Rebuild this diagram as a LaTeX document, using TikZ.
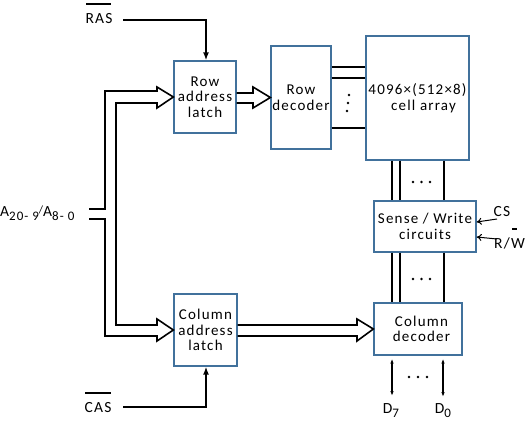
\documentclass[tikz,border=0pt]{standalone}
\usepackage{fontspec}
\setmainfont{Carlito}[LetterSpace=8]
\usetikzlibrary{arrows.meta}
\definecolor{boxblue}{HTML}{41719C}
\newcommand{\lowsub}[1]{\raisebox{-4pt}{\fontsize{13}{13}\selectfont #1}}
\begin{document}
\begin{tikzpicture}[x=1pt,y=-1pt,
  blk/.style={draw=boxblue,line width=1.3pt,fill=white,inner sep=0pt,align=center,font=\fontsize{15}{15.5}\selectfont},
  wire/.style={line width=1.6pt},
  lbl/.style={font=\fontsize{15.5}{16}\selectfont,inner sep=0pt},
  dotc/.style={circle,fill=black,inner sep=0pt,minimum size=2.6pt},
  filltip/.style={-{Latex[length=8pt,width=6pt]}},
  opentip/.style={-{To[length=5pt,width=7pt]}},
  bitip/.style={{Latex[length=5pt,width=3.5pt]}-{Latex[length=5pt,width=3.5pt]}}]
\useasboundingbox (0,0) rectangle (532,425);
% blocks
\node[blk,minimum width=62pt,minimum height=72pt] (rlatch) at (205,97) {Row\\address\\latch};
\node[blk,minimum width=60pt,minimum height=103pt] (rdec) at (301,97.5) {Row\\decoder};
\node[blk,minimum width=103pt,minimum height=124pt] (cells) at (417.5,98) {4096×(512×8)\\\hspace*{12pt}cell array};
\node[blk,minimum width=102pt,minimum height=51pt] (sense) at (425,226.5) {Sense / Write\\circuits};
\node[blk,minimum width=88pt,minimum height=52pt] (cdec) at (418,329) {\hspace*{7pt}Column\\\hspace*{7pt}decoder};
\node[blk,minimum width=63pt,minimum height=72pt] (clatch) at (205.5,330) {Column\\address\\latch};
% labels
\node[lbl] (ras) at (99,19) {RAS};
\node[lbl] (cas) at (98,408) {CAS};
\node[lbl,anchor=west] (addr) at (0,213) {A\lowsub{20- 9}\raisebox{3pt}{\fontsize{11}{11}\selectfont/}A\lowsub{8- 0}};
\node[lbl] (cs) at (502,212) {CS};
\node[lbl,anchor=west] (rw) at (494,243) {R/W};
\node[lbl,anchor=base] (d7) at (391,413) {D\lowsub{7}};
\node[lbl,anchor=base] (d0) at (443,413) {D\lowsub{0}};
% overlines
\draw[line width=1.1pt] (86,4) -- (111,4);
\draw[line width=1.1pt] (85,393) -- (111,393);
\draw[line width=1.3pt] (512,229) -- (517,229);
% control arrows
\draw[wire,filltip] (123,20) -- (206,20) -- (rlatch.north -| 206,0);
\draw[wire,filltip] (123,407) -- (206,407) -- (clatch.south -| 206,0);
\draw[line width=1pt,opentip] (497,219) -- (sense.east |- 0,222);
\draw[line width=1pt,opentip] (497,239) -- (sense.east |- 0,237);
% address bus
\draw[wire,line join=miter] (89,209) -- (105,209) -- (105,91) -- (157,91) -- (157,87) -- (rlatch.west)
  -- (157,108) -- (157,103) -- (116,103) -- (116,325) -- (157,325) -- (157,319) -- (clatch.west)
  -- (157,341) -- (157,336) -- (105,336) -- (105,219) -- (89,219);
% latch to decoders
\draw[wire,line join=miter] (rlatch.east |- 0,93) -- (253,93) -- (253,87) -- (rdec.west) -- (253,108) -- (253,103) -- (rlatch.east |- 0,103);
\draw[wire,line join=miter] (clatch.east |- 0,325) -- (357,325) -- (357,319) -- (cdec.west) -- (357,341) -- (357,336) -- (clatch.east |- 0,336);
% row lines
\foreach \yy in {67,78,128} \draw[wire] (rdec.east |- 0,\yy) -- (cells.west |- 0,\yy);
\node[dotc] at (349,95) {};
\node[dotc] at (348,103) {};
\node[dotc] at (347,111) {};
% column lines
\foreach \xx in {392,400,444} {
  \draw[wire] (cells.south -| \xx,0) -- (sense.north -| \xx,0);
  \draw[wire] (sense.south -| \xx,0) -- (cdec.north -| \xx,0);
}
\foreach \xx in {413,421.5,430} {
  \node[dotc] at (\xx,182) {};
  \node[dotc] at (\xx,279) {};
}
\foreach \xx in {409,418,427} \node[dotc] at (\xx,377) {};
% data lines
\draw[line width=1.3pt,bitip] (cdec.south -| 392,0) ++(0,3) -- (392,396);
\draw[line width=1.3pt,bitip] (cdec.south -| 443,0) ++(0,3) -- (443,397);
\end{tikzpicture}
\end{document}
